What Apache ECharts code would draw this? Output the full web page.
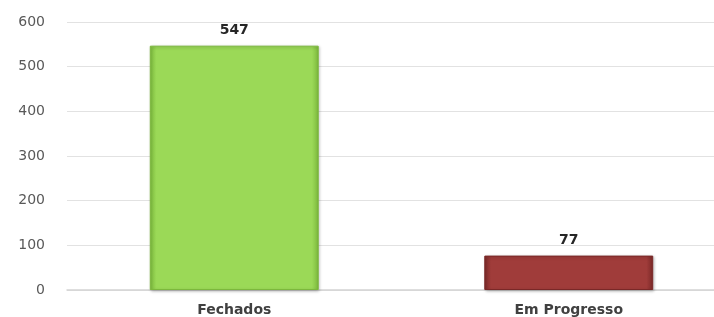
<!DOCTYPE html>
<html>
<head>
<meta charset="utf-8">
<script src="https://cdn.jsdelivr.net/npm/echarts@6/dist/echarts.min.js"></script>
<style>
  html, body { margin: 0; padding: 0; background: #fff; }
  #main { width: 714px; height: 317px; }
</style>
</head>
<body>
<div id="main"></div>
<script>
var categories = ['Fechados', 'Em Progresso']
var values = [547, 77]
var yTicks = [0, 100, 200, 300, 400, 500, 600]

//cores das barras
var barColors = [
  ['#7fbf3e', '#a3e062', '#9bd957', '#7cb83c'],
  ['#7e2a29', '#a8413f', '#a03c3a', '#7a2827']
]

var myChart = echarts.init(document.getElementById('main'));
var option;
option = {
  animation: false,
  grid: {
    left: 67,
    width: 669,
    top: 22,
    bottom: 27,
    outerBoundsMode: 'none'
  },
  xAxis: {
    type: 'category',
    data: categories,
    axisTick: { show: false },
    axisLine: { lineStyle: { color: '#d4d4d4', width: 1.5 } },
    axisLabel: {
      color: '#404040',
      fontFamily: 'DejaVu Sans',
      fontWeight: 'bold',
      fontSize: 14,
      margin: 13
    }
  },
  yAxis: {
    type: 'value',
    min: yTicks[0],
    max: yTicks[yTicks.length - 1],
    interval: 100,
    axisLine: { show: false },
    axisTick: { show: false },
    splitLine: { lineStyle: { color: '#e2e2e2' } },
    axisLabel: {
      color: '#595959',
      fontFamily: 'DejaVu Sans',
      fontSize: 14,
      margin: 22
    }
  },
  series: [
    {
      type: 'bar',
      barWidth: '50.5%',
      data: values.map(function (v, i) {
        var c = barColors[i]
        return {
          value: v,
          itemStyle: {
            color: new echarts.graphic.LinearGradient(0, 0, 1, 0, [
              { offset: 0, color: c[0] },
              { offset: 0.04, color: c[2] },
              { offset: 0.96, color: c[2] },
              { offset: 1, color: c[3] }
            ]),
            borderColor: c[3],
            borderWidth: 1,
            shadowColor: 'rgba(0,0,0,0.25)',
            shadowBlur: 3,
            shadowOffsetX: 1,
            shadowOffsetY: 1
          }
        }
      }),
      label: {
        show: true,
        position: 'top',
        distance: 8,
        color: '#262626',
        fontFamily: 'DejaVu Sans',
        fontWeight: 'bold',
        fontSize: 14
      }
    }
  ]
};
if (option && typeof option === 'object') {
  myChart.setOption(option);
}
</script>
</body>
</html>
